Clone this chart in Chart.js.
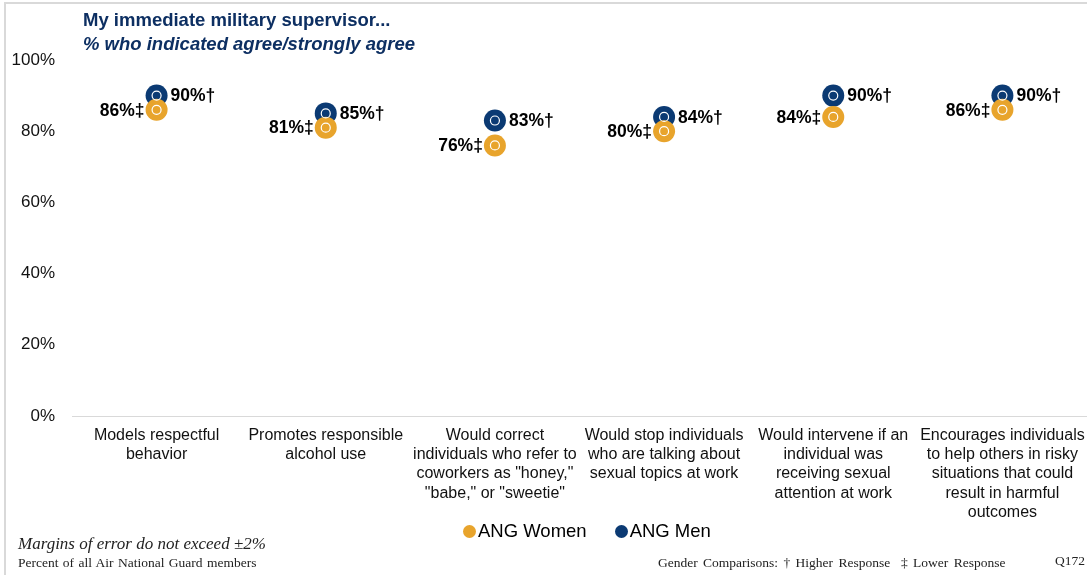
<!DOCTYPE html>
<html>
<head>
<meta charset="utf-8">
<script src="https://cdn.jsdelivr.net/npm/chart.js@4.4.1/dist/chart.umd.min.js"></script>
<style>
  body { margin: 0; background: #fff; }
  #wrap { position: relative; width: 1087px; height: 575px; overflow: hidden; font-family: "Liberation Sans", Arial, sans-serif; }
  #frame { position: absolute; left: 4px; top: 2px; width: 1100px; height: 600px; border-left: 2px solid #d9d9d9; border-top: 2px solid #d9d9d9; }
  canvas { position: absolute; left: 0; top: 0; }
  .t { position: absolute; white-space: nowrap; }
  #title1 { left: 83px; top: 9px; font-size: 18.5px; font-weight: bold; color: #0d2f62; }
  #title2 { left: 83px; top: 33px; font-size: 18.5px; font-weight: bold; font-style: italic; color: #0d2f62; }
  #legend { left: 463px; top: 520px; font-size: 18.5px; color: #000; }
  .dot { display: inline-block; width: 13px; height: 13px; border-radius: 50%; vertical-align: -1px; margin-right: 2px; }
  .serif { font-family: "Liberation Serif", "Times New Roman", serif; color: #222; }
  #moe { left: 18px; top: 534px; font-size: 17px; font-style: italic; }
  #pop { left: 18px; top: 555px; font-size: 13.5px; word-spacing: 1px; }
  #cmp { left: 658px; top: 555px; font-size: 13.5px; word-spacing: 2px; }
  #q { left: 1055px; top: 553px; font-size: 13.5px; }
</style>
</head>
<body>
<div id="wrap">
  <div id="frame"></div>
  <canvas id="Chart" width="1087" height="575"></canvas>
  <div class="t" id="title1">My immediate military supervisor...</div>
  <div class="t" id="title2">% who indicated agree/strongly agree</div>
  <div class="t" id="legend"><span class="dot" style="background:#e8a42c"></span>ANG Women<span class="dot" style="background:#0b3a73; margin-left:28px"></span>ANG Men</div>
  <div class="t serif" id="moe">Margins of error do not exceed ±2%</div>
  <div class="t serif" id="pop">Percent of all Air National Guard members</div>
  <div class="t serif" id="cmp">Gender Comparisons: † Higher Response &nbsp;‡ Lower Response</div>
  <div class="t serif" id="q">Q172</div>
</div>
<script>
// categories (x axis labels, already split in lines)
const categories = [
  ["Models respectful", "behavior"],
  ["Promotes responsible", "alcohol use"],
  ["Would correct", "individuals who refer to", "coworkers as \"honey,\"", "\"babe,\" or \"sweetie\""],
  ["Would stop individuals", "who are talking about", "sexual topics at work"],
  ["Would intervene if an", "individual was", "receiving sexual", "attention at work"],
  ["Encourages individuals", "to help others in risky", "situations that could", "result in harmful", "outcomes"]
];
const womenValues = [86, 81, 76, 80, 84, 86];
const menValues = [90, 85, 83, 84, 90, 90];
const womenMarks = ["‡", "‡", "‡", "‡", "‡", "‡"];
const menMarks = ["†", "†", "†", "†", "†", "†"];
const yTicks = [0, 20, 40, 60, 80, 100];

const orange = "#e8a42c";
const navy = "#0b3a73";

// white ring inside each point + value labels
const pointDeco = {
  id: "pointDeco",
  afterDatasetsDraw(chart) {
    const ctx = chart.ctx;
    ctx.save();
    chart.data.datasets.forEach((ds, i) => {
      const meta = chart.getDatasetMeta(i);
      meta.data.forEach((pt, j) => {
        ctx.beginPath();
        ctx.arc(pt.x, pt.y, 4.5, 0, Math.PI * 2);
        ctx.strokeStyle = "#fff";
        ctx.lineWidth = 1.2;
        ctx.stroke();

        ctx.font = "bold 17.5px 'Liberation Sans', Arial, sans-serif";
        ctx.fillStyle = "#000";
        ctx.textBaseline = "middle";
        if (i === 0) {
          ctx.textAlign = "right";
          ctx.fillText(ds.data[j] + "%" + womenMarks[j], pt.x - 12, pt.y + 1);
        } else {
          ctx.textAlign = "left";
          ctx.fillText(ds.data[j] + "%" + menMarks[j], pt.x + 14, pt.y + 1);
        }
      });
    });
    ctx.restore();
  }
};

const ctx = document.getElementById("Chart").getContext("2d");
new Chart(ctx, {
  type: "line",
  data: {
    labels: categories,
    datasets: [
      {
        label: "ANG Women",
        data: womenValues,
        showLine: false,
        pointRadius: 11,
        pointHoverRadius: 11,
        pointBackgroundColor: orange,
        pointBorderColor: orange,
        pointBorderWidth: 0
      },
      {
        label: "ANG Men",
        data: menValues,
        showLine: false,
        pointRadius: 11,
        pointHoverRadius: 11,
        pointBackgroundColor: navy,
        pointBorderColor: navy,
        pointBorderWidth: 0
      }
    ]
  },
  options: {
    responsive: false,
    animation: false,
    events: [],
    layout: { autoPadding: false, padding: { top: 60, left: 0, right: 0, bottom: 0 } },
    plugins: {
      legend: { display: false },
      tooltip: { enabled: false }
    },
    scales: {
      x: {
        offset: true,
        grid: { display: false, drawTicks: false },
        border: { display: true, color: "#d9d9d9", width: 1 },
        ticks: {
          color: "#111",
          font: { family: "'Liberation Sans', Arial, sans-serif", size: 16, lineHeight: 1.2 },
          padding: 10,
          maxRotation: 0,
          autoSkip: false
        },
        afterFit(scale) {
          scale.height = 159;
          scale.paddingLeft = 0;
          scale.paddingRight = 0;
        }
      },
      y: {
        min: 0,
        max: 100,
        afterBuildTicks(scale) { scale.ticks = yTicks.map(v => ({ value: v })); },
        grid: { display: false, drawTicks: false },
        border: { display: false },
        ticks: {
          color: "#111",
          font: { family: "'Liberation Sans', Arial, sans-serif", size: 17 },
          padding: 17,
          callback: v => v + "%"
        },
        afterFit(scale) { scale.width = 72; }
      }
    }
  },
  plugins: [pointDeco]
});
</script>
</body>
</html>
